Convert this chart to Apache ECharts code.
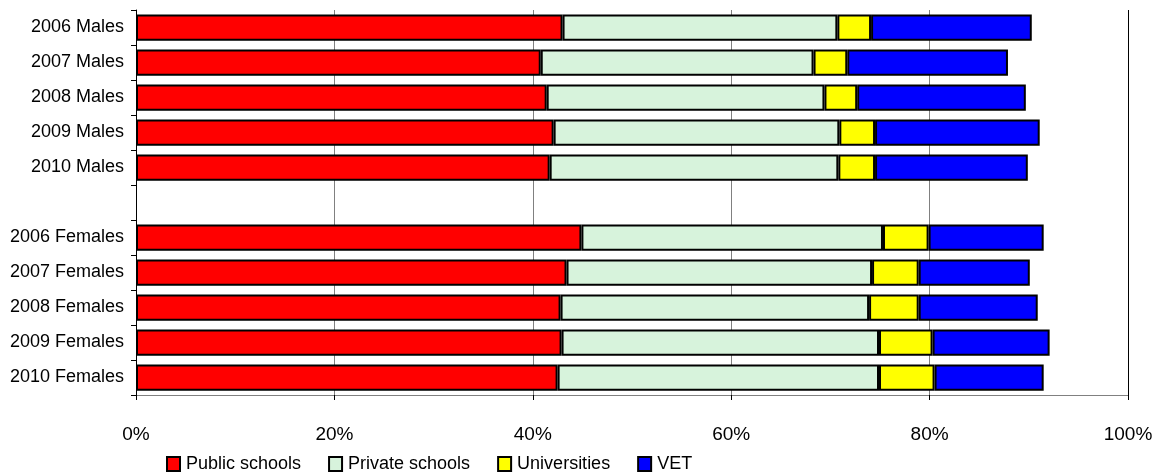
<!DOCTYPE html>
<html>
<head>
<meta charset="utf-8">
<script src="https://cdn.jsdelivr.net/npm/echarts@6/dist/echarts.min.js"></script>
<style>html,body{margin:0;padding:0;background:#fff}#c{width:1165px;height:473px}</style>
</head>
<body>
<div id="c"></div>
<script>
const categories = ['2006 Males','2007 Males','2008 Males','2009 Males','2010 Males','',
  '2006 Females','2007 Females','2008 Females','2009 Females','2010 Females'];
const publicSchools  = [43.0, 40.8, 41.4, 42.1, 41.7, null, 44.9, 43.4, 42.8, 42.9, 42.5];
const privateSchools = [27.7, 27.5, 28.0, 28.8, 29.1, null, 30.4, 30.8, 31.1, 32.0, 32.4];
const universities   = [3.4, 3.4, 3.3, 3.6, 3.7, null, 4.6, 4.7, 5.0, 5.4, 5.6];
const vet            = [16.2, 16.2, 17.0, 16.6, 15.4, null, 11.6, 11.2, 12.0, 11.8, 11.0];
const seriesNames = ['Public schools','Private schools','Universities','VET'];
const xTicks = [0, 20, 40, 60, 80, 100];

const colors = ['#FF0000', '#D7F3DC', '#FFFF00', '#0000FF'];
const font = 'Liberation Sans, Arial, sans-serif';
const chart = echarts.init(document.getElementById('c'));
const mk = (name, data, i) => ({
  name, type: 'bar', stack: 'total', data,
  barCategoryGap: '25%',
  itemStyle: { color: colors[i], borderColor: '#000', borderWidth: 2 },
  emphasis: { disabled: true }
});
chart.setOption({
  animation: false,
  color: colors,
  grid: { left: 136, right: 37, top: 10, bottom: 78, containLabel: false },
  legend: {
    left: 161, top: 450, itemWidth: 13, itemHeight: 14, itemGap: 27,
    icon: 'rect',
    textStyle: { fontFamily: font, fontSize: 18, color: '#000', padding: [0,0,0,1] },
    data: seriesNames
  },
  xAxis: {
    type: 'value', min: xTicks[0], max: xTicks[xTicks.length-1], interval: 20,
    axisLine: { show: true, lineStyle: { color: '#808080', width: 1 } },
    axisTick: { show: true, length: 5, lineStyle: { color: '#000' } },
    axisLabel: { formatter: '{value}%', fontFamily: font, fontSize: 19, color: '#000', margin: 30 },
    splitLine: { show: true, lineStyle: { color: ['#000','#808080','#808080','#808080','#808080','#000'], width: 1 } }
  },
  yAxis: {
    type: 'category', data: categories, inverse: true,
    axisLine: { show: true, lineStyle: { color: '#000', width: 1 } },
    axisTick: { show: true, length: 5, lineStyle: { color: '#000' } },
    axisLabel: { fontFamily: font, fontSize: 18, color: '#000', margin: 12 }
  },
  series: [
    mk(seriesNames[0], publicSchools, 0),
    mk(seriesNames[1], privateSchools, 1),
    mk(seriesNames[2], universities, 2),
    mk(seriesNames[3], vet, 3)
  ]
});
</script>
</body>
</html>
